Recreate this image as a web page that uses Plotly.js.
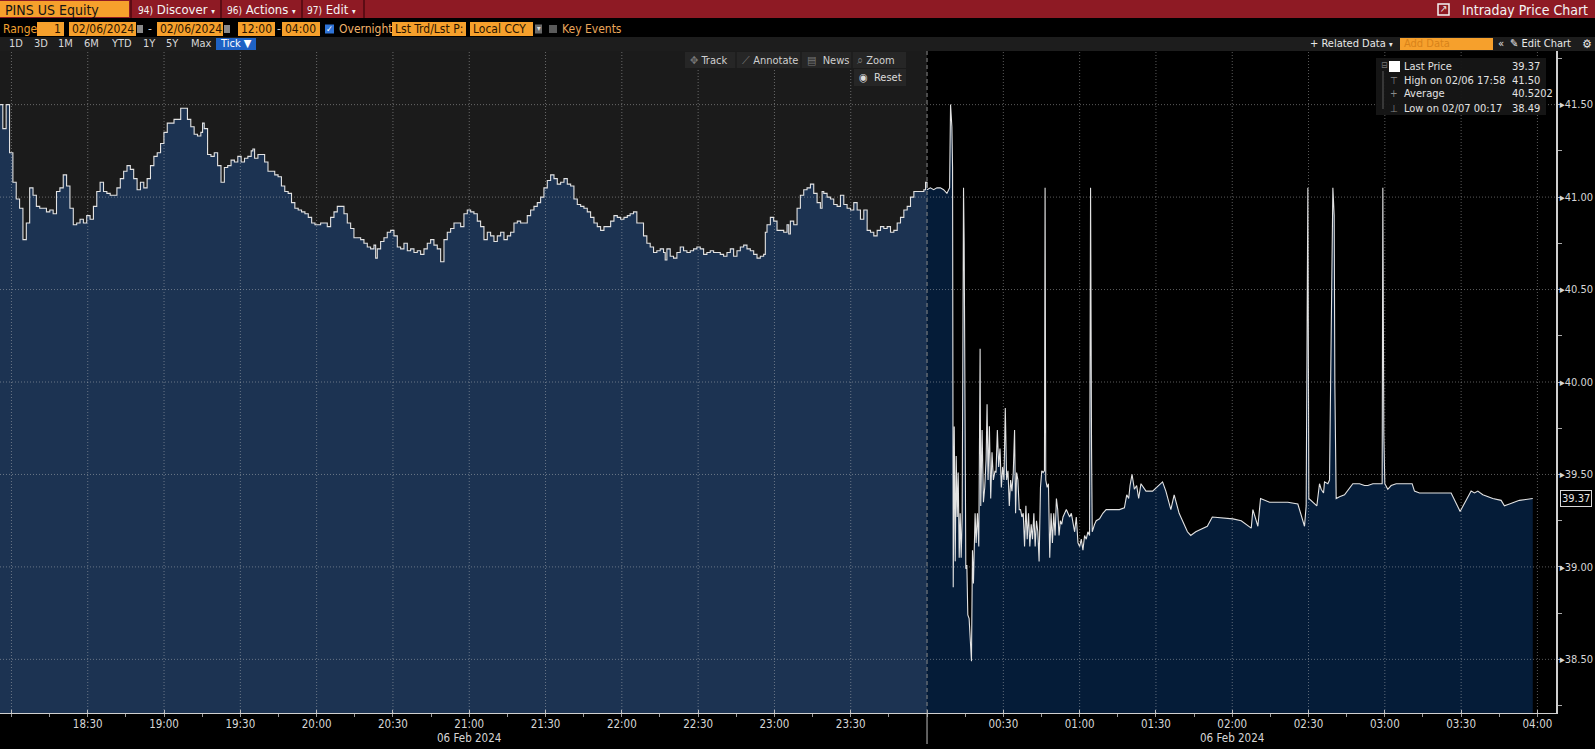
<!DOCTYPE html>
<html><head><meta charset="utf-8">
<script src="https://cdn.plot.ly/plotly-3.0.1.min.js"></script>
<style>html,body{margin:0;padding:0;background:#000;overflow:hidden}#chart{width:1595px;height:749px}</style>
</head><body><div id="chart"></div>
<script>
// ---- DATA (minutes after 2024-02-06 18:00, prices in USD) ----
const eveMinutes = [
-4.71,-3.39,-2.07,-0.75,0.57,1.89,3.21,4.53,5.85,7.17,
8.49,9.81,11.13,12.45,13.77,15.09,16.41,17.73,19.05,20.37,
21.69,23.01,24.33,25.65,26.97,28.29,29.61,30.92,32.24,33.56,
34.88,36.20,37.52,38.84,40.16,41.48,42.80,44.12,45.44,46.76,
48.08,49.40,50.72,52.04,53.36,54.68,56.00,57.32,58.64,59.96,
61.28,62.60,63.92,65.24,66.56,67.88,69.20,70.52,71.84,73.16,
74.48,75.14,75.80,77.12,78.44,79.76,81.08,82.40,83.72,85.04,
86.36,87.68,89.00,90.32,91.64,92.96,94.28,94.94,95.60,96.92,
98.24,99.56,100.88,102.20,103.52,104.84,106.16,107.48,108.80,110.12,
111.44,112.76,114.08,115.40,116.72,118.04,119.36,120.68,
121.57,122.88,124.19,125.50,126.82,128.13,129.44,130.75,132.06,133.37,
134.68,135.99,137.30,138.61,139.92,141.23,142.54,143.20,143.85,145.16,
146.47,147.78,149.10,150.41,151.72,153.03,154.34,155.65,156.96,158.27,
159.58,160.89,162.20,163.51,164.82,166.13,167.44,168.76,170.07,171.38,
172.69,174.00,175.31,176.62,177.93,179.24,180.55,181.86,183.17,184.48,
185.79,187.10,188.41,189.72,191.04,192.35,193.66,194.97,196.28,197.59,
198.90,200.21,201.52,202.83,204.14,205.45,206.76,208.07,209.38,210.69,
212.00,213.32,214.63,215.94,217.25,218.56,219.87,221.18,222.49,223.80,
225.11,226.42,227.73,229.04,230.35,231.66,232.97,234.29,235.60,236.91,
238.22,239.53,240.84,242.15,
243.28,244.59,245.91,247.22,248.53,249.84,251.15,252.47,253.78,255.09,
256.40,257.06,257.72,259.03,260.34,261.65,262.97,264.28,265.59,266.90,
268.22,269.53,270.84,272.15,273.46,274.78,276.09,277.40,278.71,280.03,
281.34,282.65,283.96,285.28,286.59,287.90,289.21,290.52,291.84,293.15,
294.46,295.77,296.43,297.09,298.40,299.71,301.02,302.34,303.65,304.96,
305.62,306.27,307.59,308.90,310.21,311.52,312.83,314.15,315.46,316.77,
318.08,318.74,319.40,320.71,322.02,323.33,324.65,325.96,327.27,328.58,
329.90,331.21,332.52,333.83,335.14,336.46,337.77,339.08,340.39,341.71,
343.02,344.33,345.64,346.95,348.27,349.58,350.89,352.20,353.51,354.83,
356.14,357.45,358.76,359.42,360.00];
const evePrices = [
41.50,41.37,41.50,41.24,41.08,40.99,40.94,40.77,40.86,41.05,
41.01,40.95,40.94,40.94,40.92,40.93,40.91,41.03,41.05,41.12,
41.06,40.94,40.85,40.86,40.88,40.86,40.90,40.88,40.95,41.03,
41.08,41.03,41.02,41.01,41.01,41.05,41.10,41.14,41.17,41.15,
41.10,41.04,41.08,41.05,41.10,41.17,41.22,41.24,41.29,41.35,
41.40,41.40,41.42,41.42,41.48,41.48,41.42,41.38,41.34,41.33,
41.35,41.40,41.37,41.23,41.22,41.24,41.17,41.08,41.16,41.17,
41.20,41.19,41.22,41.19,41.21,41.22,41.25,41.26,41.21,41.23,
41.23,41.19,41.14,41.14,41.12,41.11,41.06,41.03,41.02,40.97,
40.94,40.93,40.92,40.91,40.89,40.86,40.85,40.85,
40.86,40.86,40.84,40.89,40.92,40.95,40.95,40.91,40.86,40.83,
40.78,40.78,40.77,40.75,40.73,40.72,40.74,40.67,40.72,40.76,
40.78,40.81,40.82,40.79,40.73,40.72,40.75,40.71,40.72,40.70,
40.71,40.69,40.72,40.75,40.77,40.74,40.72,40.65,40.77,40.81,
40.83,40.86,40.86,40.84,40.91,40.93,40.92,40.91,40.87,40.84,
40.77,40.81,40.79,40.76,40.79,40.81,40.77,40.79,40.81,40.86,
40.87,40.86,40.86,40.90,40.93,40.95,40.97,41.00,41.05,41.09,
41.12,41.10,41.07,41.08,41.10,41.07,41.06,40.99,40.96,40.95,
40.94,40.92,40.89,40.86,40.84,40.82,40.84,40.84,40.87,40.90,
40.89,40.88,40.89,40.90,
40.91,40.92,40.86,40.86,40.79,40.75,40.73,40.70,40.71,40.72,
40.70,40.66,40.72,40.68,40.67,40.70,40.73,40.71,40.70,40.71,
40.72,40.73,40.72,40.69,40.70,40.71,40.70,40.70,40.69,40.68,
40.70,40.72,40.68,40.71,40.73,40.74,40.72,40.71,40.69,40.67,
40.68,40.69,40.81,40.85,40.89,40.87,40.82,40.82,40.81,40.85,
40.80,40.87,40.85,40.94,41.01,41.04,41.05,41.07,41.02,40.97,
40.94,41.03,41.02,41.00,40.99,40.96,40.95,41.01,40.96,40.94,
40.93,40.97,40.93,40.88,40.93,40.82,40.81,40.79,40.82,40.84,
40.83,40.84,40.81,40.82,40.86,40.89,40.93,40.95,41.00,41.03,
41.03,41.03,41.04,41.08,41.05];
const nightMinutes = [
360.00,361.30,362.61,363.91,365.22,366.52,367.83,368.87,369.26,369.78,
370.04,370.30,370.70,371.09,371.48,371.87,372.26,372.65,373.04,373.43,
373.83,374.35,374.61,374.87,375.26,375.65,376.04,376.56,376.96,377.48,
377.87,378.26,378.91,379.30,379.83,380.35,380.87,381.13,381.65,382.17,
382.70,383.22,383.61,384.00,384.52,385.04,385.56,386.09,386.74,387.13,
387.65,388.17,388.69,389.22,389.74,390.26,390.78,391.30,391.83,392.35,
392.87,393.39,393.91,394.43,394.83,395.22,395.74,396.26,396.78,397.30,
397.82,398.35,398.87,399.39,399.91,400.43,400.95,401.48,402.00,402.52,
403.04,403.56,404.08,404.61,405.13,405.65,406.17,406.43,406.69,407.22,
407.74,408.26,408.78,409.30,409.82,410.35,410.87,411.39,411.91,412.43,
412.95,413.48,414.13,414.78,415.43,416.09,416.74,417.39,418.04,418.69,
419.35,420.00,420.65,421.30,421.95,422.61,423.26,423.91,424.30,424.69,
424.95,425.87,426.52,427.82,429.13,430.43,431.74,433.04,434.35,435.65,
437.61,438.52,439.30,439.82,440.61,441.52,442.43,443.22,444.13,446.09,
448.69,452.61,453.91,455.87,457.17,459.13,462.39,463.69,465.65,470.21,
472.17,478.69,480.26,483.54,487.47,488.12,490.09,491.14,494.67,497.95,
501.88,505.81,507.51,508.43,509.08,509.74,510.13,511.70,513.28,514.32,
514.98,515.90,516.29,517.60,518.25,518.91,519.57,520.09,520.35,520.88,
522.19,524.15,526.12,527.43,530.05,532.01,533.32,535.29,536.60,538.96,
539.22,539.61,540.00,541.18,542.49,544.46,546.42,550.74,551.66,553.63,
560.18,566.07,569.61,571.97,573.94,575.25,576.55,578.52,582.45,585.72,
587.03,589.00,592.93,598.17];
const nightPrices = [
41.04,41.05,41.04,41.05,41.05,41.04,41.02,41.05,41.50,41.38,
41.16,38.89,39.76,39.03,39.60,39.27,39.51,39.05,39.29,39.05,
39.27,41.05,40.75,39.58,38.99,39.01,38.74,38.72,38.60,38.49,
39.09,38.91,39.29,39.13,39.29,39.11,40.18,39.33,39.74,39.35,
39.43,39.58,39.88,39.47,39.76,39.37,39.62,39.47,39.52,39.51,
39.74,39.54,39.64,39.43,39.54,39.47,39.86,39.47,39.52,39.33,
39.47,39.41,39.51,39.74,39.29,39.51,39.47,39.31,39.31,39.27,
39.29,39.11,39.33,39.15,39.29,39.11,39.23,39.15,39.29,39.11,
39.25,39.19,39.03,39.43,39.52,39.51,39.52,41.05,39.47,39.43,
39.45,39.05,39.29,39.13,39.29,39.17,39.37,39.31,39.17,39.25,
39.23,39.27,39.29,39.31,39.29,39.27,39.29,39.23,39.19,39.27,
39.13,39.11,39.15,39.09,39.17,39.15,39.19,39.17,41.05,39.64,
39.19,39.23,39.25,39.26,39.29,39.31,39.31,39.31,39.31,39.31,
39.32,39.39,39.37,39.44,39.50,39.42,39.44,39.37,39.45,39.41,
39.41,39.46,39.41,39.31,39.39,39.29,39.19,39.17,39.19,39.22,
39.27,39.26,39.26,39.25,39.21,39.31,39.22,39.37,39.35,39.35,
39.35,39.34,39.27,39.22,39.33,41.05,39.37,39.35,39.33,39.45,
39.42,39.40,39.46,39.45,39.47,40.25,41.05,40.90,39.98,39.37,
39.38,39.39,39.43,39.45,39.45,39.44,39.44,39.45,39.45,39.45,
41.05,39.72,39.45,39.42,39.44,39.45,39.45,39.45,39.41,39.40,
39.40,39.40,39.30,39.36,39.41,39.40,39.41,39.39,39.37,39.36,
39.33,39.34,39.36,39.37];
const timeTickLabels = ['','18:30','19:00','19:30','20:00','20:30','21:00','21:30','22:00','22:30','23:00','23:30',
  '','00:30','01:00','01:30','02:00','02:30','03:00','03:30','04:00'];
const priceTicks = [38.5,39.0,39.5,40.0,40.5,41.0,41.5];
const legendLabels = ['Last Price','High on 02/06 17:58','Average','Low on 02/07 00:17'];
const legendValues = ['39.37','41.50','40.5202','38.49'];
const lastPrice = 39.37;
const dateLabel = '06 Feb 2024';

// ---- helpers ----
const BASE = Date.UTC(2024,1,6,18,0,0);
const toDate = m => new Date(BASE + Math.round(m*60000)).toISOString().replace('T',' ').slice(0,19);
const W=1595,H=749,ML=0,MR=39,MT=51,MB=36,PW=W-ML-MR,PH=H-MT-MB;
const fx = X => (X-ML)/PW, fy = Y => (H-MB-Y)/PH;
const T0=-4.49, T1=607.3;
const FONT = "'Liberation Sans Narrow','Arial Narrow','DejaVu Sans Condensed','Liberation Sans',Arial,sans-serif";
const shapes=[], ann=[];
const rect=(x0,x1,y0,y1,fill,line)=>shapes.push({type:'rect',xref:'paper',yref:'paper',x0:fx(x0),x1:fx(x1),y0:fy(y1),y1:fy(y0),fillcolor:fill,line:line||{width:0},layer:'above'});
const txt=(X,Y,s,color,size,anchor)=>ann.push({xref:'paper',yref:'paper',x:fx(X),y:fy(Y),text:s,showarrow:false,xanchor:anchor||'left',yanchor:'middle',borderpad:0,font:{family:FONT,size:size||12,color:color||'#e0e0e0'}});

// background for the evening session
shapes.push({type:'rect',xref:'x',yref:'paper',x0:toDate(T0),x1:toDate(360),y0:0,y1:1,fillcolor:'#1b1b1b',line:{width:0},layer:'below'});
// grid
const tickMinutes = timeTickLabels.map((_,i)=>i*30);
const gridLine = {color:'rgba(200,200,200,0.45)',width:1,dash:'1px,2px'};
tickMinutes.forEach(m=>{ if(m===360) return; shapes.push({type:'line',xref:'x',yref:'paper',x0:toDate(m),x1:toDate(m),y0:0,y1:1,line:gridLine,layer:'above'});});
priceTicks.forEach(v=>shapes.push({type:'line',xref:'paper',yref:'y',x0:0,x1:1,y0:v,y1:v,line:gridLine,layer:'above'}));
// day boundary
shapes.push({type:'line',xref:'x',yref:'paper',x0:toDate(360),x1:toDate(360),y0:0,y1:1,line:{color:'#8a8a8a',width:1,dash:'4px,3px'},layer:'above'});
const bx=(360-T0)/(T1-T0);
shapes.push({type:'line',xref:'paper',yref:'paper',x0:bx,x1:bx,y0:0,y1:fy(744),line:{color:'#bdbdbd',width:1},layer:'above'});

// ---- header row 1 ----
rect(0,W,0,18,'#8e1a24');
rect(0,129,1,17,'#f6a02c');
txt(4,9.5,'PINS US Equity','#141414',14);
[131,221,302,364].forEach(X=>shapes.push({type:'line',xref:'paper',yref:'paper',x0:fx(X),x1:fx(X),y0:fy(0),y1:fy(18),line:{color:'#5c0c14',width:2},layer:'above'}));
txt(137,9.5,'<span style="font-size:10px">94)</span> Discover <span style="font-size:8px">▾</span>','#f4f4f4',13);
txt(226,9.5,'<span style="font-size:10px">96)</span> Actions <span style="font-size:8px">▾</span>','#f4f4f4',13);
txt(306,9.5,'<span style="font-size:10px">97)</span> Edit <span style="font-size:8px">▾</span>','#f4f4f4',13);
rect(1438,1449,4,15,'rgba(0,0,0,0)',{color:'#f4f4f4',width:1.5});
txt(1443.5,9,'↗','#f4f4f4',10,'center');
txt(1461,9.5,'Intraday Price Chart','#f4f4f4',14);

// ---- header row 2 ----
const OR='#f6a02c', OT='#2a1500';
txt(2,29,'Range','#f0a030',12);
const boxes=[[37,64,'1','right'],[69,136,'02/06/2024'],[157,223,'02/06/2024'],[238,275,'12:00'],[282,320,'04:00'],[392,466,'Lst Trd/Lst P:'],[470,533,'Local CCY']];
boxes.forEach(b=>{rect(b[0],b[1],22,36,OR); if(b[3]==='right') txt(b[1]-2,29,b[2],OT,12,'right'); else txt(b[0]+2,29,b[2],OT,12);});
rect(137,143,25,33,'#8a8a8a'); rect(224,230,25,33,'#8a8a8a');
txt(150,29,'-','#d0d0d0',12,'center'); txt(278.5,29,'-','#d0d0d0',12,'center');
rect(325,334,24.5,33.5,'#2f74d8'); txt(329.5,29,'✓','#ffffff',9,'center');
txt(338,29,'Overnight','#f2b36a',12);
rect(535,542,24.5,33.5,'#6a6a6a'); txt(538.5,29,'▾','#dddddd',8,'center');
rect(549,557,25,33,'#5a5a5a');
txt(561,29,'Key Events','#eaa65a',12);

// ---- header row 3 ----
rect(0,W,37,51,'#1d1d1d');
[['1D',8],['3D',33],['1M',57],['6M',83],['YTD',110],['1Y',142],['5Y',165],['Max',190]].forEach(p=>txt(p[1],44,p[0],'#d8d8d8',11));
rect(216,256,38,50,'#1f62c4'); txt(219,44,'Tick ▼','#ffffff',11);
txt(1309,44,'+ Related Data <span style="font-size:8px">▾</span>','#e8e8e8',11);
rect(1400,1493,38,50,OR); txt(1403,44,'Add Data','#d8831a',11);
txt(1497,44,'«','#e8e8e8',11); txt(1509,44,'✎ Edit Chart','#e8e8e8',11); txt(1581,44,'⚙','#e8e8e8',12);

// ---- plot toolbar ----
rect(685,906,52,68,'#262626');
[736,801,852].forEach(X=>shapes.push({type:'line',xref:'paper',yref:'paper',x0:fx(X),x1:fx(X),y0:fy(52),y1:fy(68),line:{color:'#161616',width:1},layer:'above'}));
txt(689,60,'<span style="color:#777">✥</span> Track','#cfcfcf',11);
txt(741,60,'<span style="color:#777">⟋</span> Annotate','#cfcfcf',11);
txt(806,60,'<span style="color:#777">▤</span>  News','#cfcfcf',11);
txt(856,60,'<span style="color:#777">⌕</span> Zoom','#cfcfcf',11);
rect(854,906,69,86,'#262626');
txt(858,77.5,'◉  Reset','#dcdcdc',11);

// ---- legend box ----
rect(1376,1546,58,115,'rgba(22,22,22,0.95)');
shapes.push({type:'line',xref:'paper',yref:'paper',x0:fx(1383),x1:fx(1383),y0:fy(71),y1:fy(109),line:{color:'#5a5a5a',width:1},layer:'above'});
txt(1380,65,'⊟','#777',9);
rect(1389,1400,61,72,'#ffffff');
const rowsY=[66.5,80.5,94,108], marks=['','⊤','+','⊥'];
legendLabels.forEach((l,i)=>{ if(marks[i]) txt(1394,rowsY[i],marks[i],'#8a8a8a',10,'center'); txt(1403,rowsY[i],l,'#e2e2e2',11); txt(1511,rowsY[i],legendValues[i],'#e2e2e2',11);});

// date labels & last price tag
[180,480].forEach(m=>ann.push({xref:'x',yref:'paper',x:toDate(m),y:fy(738),text:dateLabel,showarrow:false,xanchor:'center',yanchor:'middle',font:{family:FONT,size:11.5,color:'#d6d6d6'}}));
ann.push({xref:'paper',yref:'y',x:fx(1560),y:lastPrice,text:'39.37',showarrow:false,xanchor:'left',yanchor:'middle',bgcolor:'#000',bordercolor:'#d8d8d8',borderwidth:1,borderpad:1,font:{family:FONT,size:11,color:'#e6e6e6'}});

const traces=[
 {type:'scatter',mode:'lines',x:eveMinutes.map(toDate),y:evePrices,line:{color:'#e2e2e2',width:1.1,shape:'hv'},fill:'tozeroy',fillcolor:'#1c3352',hoverinfo:'skip'},
 {type:'scatter',mode:'lines',x:nightMinutes.map(toDate),y:nightPrices,line:{color:'#e2e2e2',width:1.1},fill:'tozeroy',fillcolor:'#051c38',hoverinfo:'skip'}
];
const layout={
 width:W,height:H,margin:{l:ML,r:MR,t:MT,b:MB,pad:0},paper_bgcolor:'#000',plot_bgcolor:'#000',showlegend:false,
 font:{family:FONT,color:'#d6d6d6',size:12},
 xaxis:{type:'date',range:[toDate(T0),toDate(T1)],tickmode:'array',tickvals:tickMinutes.map(toDate),ticktext:timeTickLabels,
   ticks:'inside',ticklen:3,tickcolor:'#bbbbbb',showline:true,linecolor:'#d0d0d0',linewidth:1,showgrid:false,zeroline:false,
   ticklabelstandoff:0,tickfont:{family:FONT,size:11.5,color:'#d6d6d6'},
   minor:{ticks:'outside',ticklen:3,dtick:15*60000,tick0:toDate(0),tickcolor:'#999',showgrid:false}},
 yaxis:{side:'right',range:[38.21,41.79],tickmode:'array',tickvals:priceTicks,ticktext:priceTicks.map(v=>'▸'+v.toFixed(2)),
   ticks:'',showline:true,linecolor:'#cfcfcf',linewidth:1.5,showgrid:false,zeroline:false,ticklabelstandoff:0,
   tickfont:{family:FONT,size:11,color:'#d6d6d6'},
   minor:{ticks:'outside',ticklen:4,dtick:0.25,tick0:38.5,tickcolor:'#aaa',showgrid:false}},
 shapes:shapes,annotations:ann
};
Plotly.newPlot('chart',traces,layout,{staticPlot:true,displayModeBar:false});
</script></body></html>
